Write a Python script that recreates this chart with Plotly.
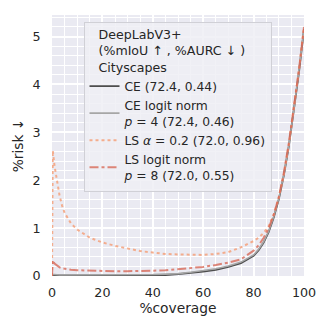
import plotly.graph_objects as go

coverage = [0, 0.3, 1, 2, 3, 4, 5, 7.5, 10, 15, 20, 25, 30, 35, 40, 45, 50, 55, 60, 65,
            70, 75, 80, 82, 84, 86, 88, 90, 92, 94, 96, 98, 100]

risk_ce = [0.0, 0.02, 0.02, 0.01, 0.01, 0.01, 0.01, 0.01, 0.01, 0.01, 0.01, 0.01, 0.01, 0.01,
           0.01, 0.02, 0.04, 0.06, 0.09, 0.13, 0.19, 0.27, 0.42, 0.54, 0.70, 0.92, 1.22,
           1.60, 2.10, 2.72, 3.45, 4.25, 5.15]
risk_ce_ln = [0.0, 0.03, 0.03, 0.02, 0.02, 0.02, 0.02, 0.02, 0.02, 0.02, 0.02, 0.02, 0.02, 0.02,
              0.03, 0.04, 0.05, 0.08, 0.11, 0.15, 0.21, 0.29, 0.44, 0.56, 0.72, 0.94, 1.24,
              1.62, 2.12, 2.74, 3.47, 4.27, 5.15]
risk_ls = [0.0, 2.62, 2.30, 1.95, 1.68, 1.47, 1.32, 1.10, 0.97, 0.80, 0.70, 0.63, 0.57, 0.52,
           0.49, 0.46, 0.45, 0.44, 0.44, 0.46, 0.50, 0.60, 0.73, 0.80, 0.90, 1.04, 1.28,
           1.64, 2.12, 2.75, 3.50, 4.30, 5.20]
risk_ls_ln = [0.0, 0.33, 0.26, 0.21, 0.18, 0.16, 0.15, 0.13, 0.12, 0.11, 0.10, 0.10, 0.10, 0.10,
              0.11, 0.12, 0.14, 0.16, 0.19, 0.23, 0.28, 0.35, 0.53, 0.64, 0.80, 1.00, 1.28,
              1.65, 2.15, 2.78, 3.50, 4.30, 5.20]

names = [
    "CE (72.4, 0.44)",
    "CE logit norm<br><i>p</i> = 4 (72.4, 0.46)",
    "LS <i>α</i> = 0.2 (72.0, 0.96)",
    "LS logit norm<br><i>p</i> = 8 (72.0, 0.55)",
]
legend_title = ["DeepLabV3+", "(%mIoU ↑ , %AURC ↓ )", "Cityscapes"]

FONT = "DejaVu Sans"
PAD = "&nbsp;" * 3

fig = go.Figure()
styles = [
    (risk_ce, dict(color="#4d4d4d", width=1.8, dash="solid")),
    (risk_ce_ln, dict(color="#a6a6a6", width=1.6, dash="solid")),
    (risk_ls, dict(color="rgba(244,165,130,0.9)", width=2, dash="dot")),
    (risk_ls_ln, dict(color="rgba(214,96,77,0.75)", width=2, dash="dashdot")),
]
for name, (values, line) in zip(names, styles):
    fig.add_trace(go.Scatter(x=coverage, y=values, mode="lines", name=name, line=line))

fig.update_xaxes(
    range=[0, 100],
    tickvals=[0, 20, 40, 60, 80, 100],
    showgrid=True,
    gridcolor="white",
    gridwidth=1.5,
    zeroline=False,
    ticks="outside",
    ticklen=5,
    tickcolor="rgba(0,0,0,0)",
    tickfont=dict(size=12.7),
    automargin=False,
    title=dict(text="%coverage", standoff=3, font=dict(size=13.8)),
    minor=dict(dtick=5, showgrid=True, gridcolor="white", gridwidth=0.6),
)
fig.update_yaxes(
    range=[0, 5.45],
    tickvals=[0, 1, 2, 3, 4, 5],
    showgrid=True,
    gridcolor="white",
    gridwidth=1.5,
    zeroline=False,
    ticks="outside",
    ticklen=8,
    tickcolor="rgba(0,0,0,0)",
    tickfont=dict(size=12.7),
    automargin=False,
    title=dict(text="%risk ↓", standoff=5, font=dict(size=13.8)),
    minor=dict(dtick=0.2, showgrid=True, gridcolor="white", gridwidth=0.6),
)
fig.update_layout(
    width=332,
    height=332,
    margin=dict(l=52, r=28, t=15, b=56),
    plot_bgcolor="#EAEAF2",
    paper_bgcolor="white",
    font=dict(family=FONT, size=12.7, color="#262626"),
    legend=dict(
        title=dict(text="<br>".join(PAD + t for t in legend_title), font=dict(size=12.6)),
        x=0.125,
        y=0.975,
        xanchor="left",
        yanchor="top",
        bgcolor="rgba(238,238,244,0.85)",
        bordercolor="#d0d0d6",
        borderwidth=1,
        font=dict(size=12.3),
        tracegroupgap=0,
        itemwidth=30,
    ),
)

fig.write_html(
    "out.html",
    config={"displayModeBar": False},
    post_script="document.body.style.margin='0';",
)
